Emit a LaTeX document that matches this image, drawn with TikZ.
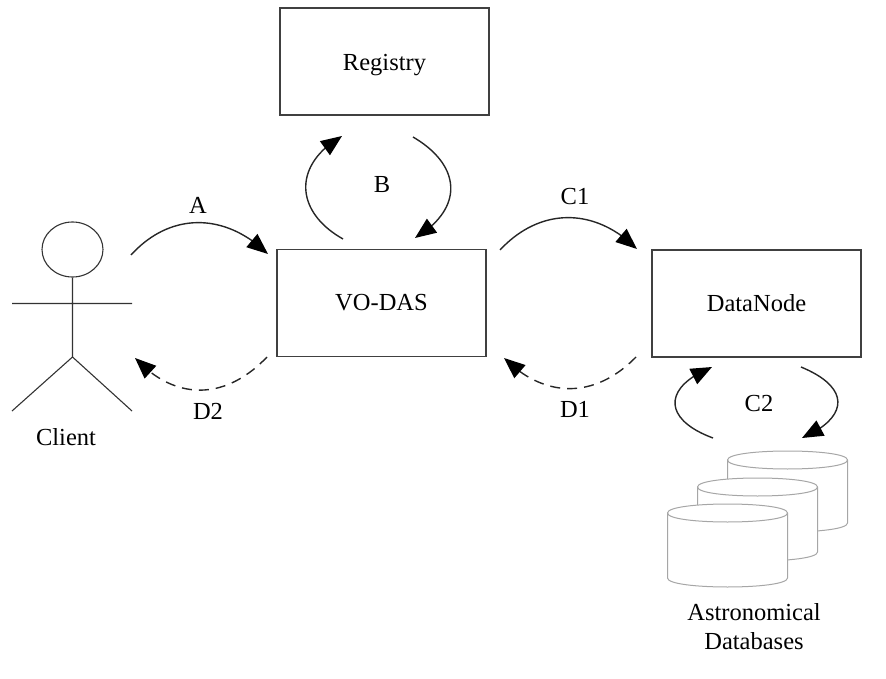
\documentclass[tikz,border=0pt]{standalone}
\usepackage{fontspec}
\setmainfont{Liberation Serif}
\usetikzlibrary{arrows.meta,shapes.geometric,bending}
\tikzset{
  box/.style={draw=black!75,line width=1.3pt,minimum width=209pt,minimum height=107pt,inner sep=0pt,font=\fontsize{24.5}{28}\selectfont},
  lab/.style={inner sep=0pt,font=\fontsize{24.5}{29}\selectfont,align=center},
  flow/.style={draw=black!85,line width=1.4pt,-{Triangle[length=21pt,width=17pt,color=black]}},
  back/.style={flow,dash pattern=on 10pt off 7pt},
  man/.style={draw=black!80,line width=1.1pt},
  cyl/.style={draw=black!35,line width=1pt,fill=white}
}
\newcommand{\drum}[3]{%
  \filldraw[cyl] (#1,#2) -- (#1,#3) .. controls (#1,#3+12) and (#1+120,#3+12) .. (#1+120,#3) -- (#1+120,#2)
    .. controls (#1+120,#2-12) and (#1,#2-12) .. (#1,#2) -- cycle;
  \draw[cyl,fill=none] (#1,#2) .. controls (#1,#2+12) and (#1+120,#2+12) .. (#1+120,#2);
}
\begin{document}
\begin{tikzpicture}[x=1pt,y=-1pt]
\useasboundingbox (0,0) rectangle (886,679);
\node[box,text depth=0pt] (reg) at (384.5,61.5) {\raisebox{-2pt}{Registry}};
\node[box] (vo) at (381.5,303) {\raisebox{-2pt}{VO-DAS}};
\node[box] (dn) at (756.5,303.5) {\raisebox{-2pt}{DataNode}};
% client
\node[ellipse,man,minimum width=61pt,minimum height=55pt,inner sep=0pt] (head) at (72.5,249.5) {};
\coordinate (hip) at (72.5,357);
\coordinate (armL) at (12,303.5);
\coordinate (armR) at (132,303.5);
\coordinate (footL) at (12,411);
\coordinate (footR) at (132,411);
\draw[man] (head.south) -- (hip) (armL) -- (armR) (footL) -- (hip) -- (footR);
\node[lab] (client) at (66,437) {Client};
% databases
\drum{727.5}{460}{523}
\drum{697.5}{487}{552}
\drum{667.5}{513}{578}
\node[lab] (astro) at (754,626.5) {Astronomical\\Databases};
% arrows
\coordinate (a1) at (131,255); \coordinate (a2) at (268,254);
\draw[flow] (a1) .. controls (170,212) and (225,212) .. (a2);
\node[lab] at (198,205) {A};
\coordinate (d2a) at (267,357); \coordinate (d2b) at (135,358);
\draw[back] (d2a) .. controls (225,401) and (175,401) .. (d2b);
\node[lab] at (208,411) {D2};
\coordinate (b1) at (343,239); \coordinate (b2) at (342,136);
\draw[flow] (b1) .. controls (295,212) and (292,165) .. (b2);
\coordinate (b3) at (413,137); \coordinate (b4) at (415,238);
\draw[flow] (b3) .. controls (461,165) and (465,208) .. (b4);
\node[lab] at (382,185) {B};
\coordinate (c1a) at (500,250); \coordinate (c1b) at (637,249);
\draw[flow] (c1a) .. controls (540,207) and (595,207) .. (c1b);
\node[lab] at (575,197) {C1};
\coordinate (d1a) at (636,357); \coordinate (d1b) at (504,358);
\draw[back] (d1a) .. controls (595,399) and (545,399) .. (d1b);
\node[lab] at (575,409) {D1};
\coordinate (c2a) at (713,438); \coordinate (c2b) at (712,367);
\draw[flow] (c2a) .. controls (664,420) and (661,388) .. (c2b);
\coordinate (c2c) at (801,367); \coordinate (c2d) at (802,438);
\draw[flow] (c2c) .. controls (852,388) and (848,418) .. (c2d);
\node[lab] at (759,404) {C2};
\end{tikzpicture}
\end{document}
